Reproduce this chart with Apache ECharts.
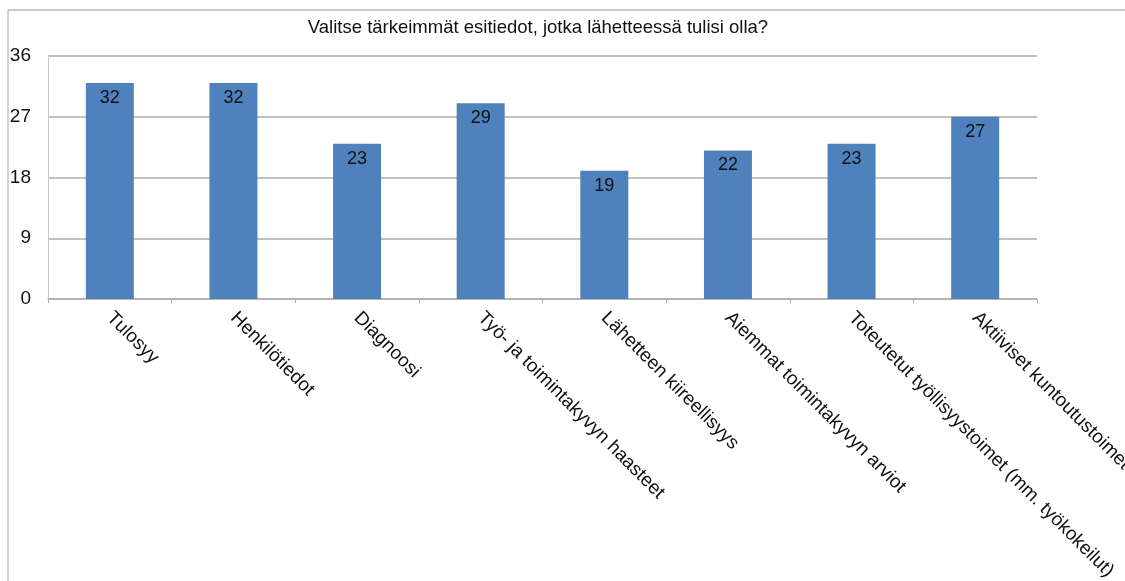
<!DOCTYPE html>
<html><head><meta charset="utf-8">
<script src="https://cdn.jsdelivr.net/npm/echarts@6/dist/echarts.min.js"></script>
<style>html,body{margin:0;padding:0;background:#fff}#c{width:1125px;height:581px}</style>
</head><body><div id="c"></div>
<script>
const titleText = 'Valitse tärkeimmät esitiedot, jotka lähetteessä tulisi olla?';
const categories = ['Tulosyy','Henkilötiedot','Diagnoosi','Työ- ja toimintakyvyn haasteet','Lähetteen kiireellisyys','Aiemmat toimintakyvyn arviot','Toteutetut työllisyystoimet (mm. työkokeilut)','Aktiiviset kuntoutustoimet'];
const values = [32,32,23,29,19,22,23,27];
const yTicks = [0,9,18,27,36];

const chart = echarts.init(document.getElementById('c'), null, {renderer:'canvas'});
chart.setOption({
  animation:false,
  backgroundColor:'#fff',
  title:{text:titleText,left:533,textAlign:'center',top:13,textStyle:{fontFamily:'Liberation Sans',fontSize:18.5,fontWeight:'normal',color:'#111'}},
  graphic:[
    {type:'line',shape:{x1:8,y1:10,x2:1125,y2:10},style:{stroke:'#b4b4b4',lineWidth:1.5}},
    {type:'line',shape:{x1:8,y1:10,x2:8,y2:581},style:{stroke:'#c4c4c4',lineWidth:1.5}}
  ],
  grid:{left:48,right:88,top:56,bottom:282,containLabel:false,outerBoundsMode:'none'},
  xAxis:{type:'category',data:categories,
    axisLine:{show:true,lineStyle:{color:'#b0b0b0',width:1.5}},
    axisTick:{show:true,length:4,lineStyle:{color:'#b0b0b0'}},
    axisLabel:{rotate:-45,interval:0,margin:16,fontFamily:'Liberation Sans',fontSize:19,color:'#111'}},
  yAxis:{type:'value',min:yTicks[0],max:yTicks[yTicks.length-1],interval:9,
    axisLine:{show:true,lineStyle:{color:'#c8c8c8',width:1}},
    axisTick:{show:false},
    splitLine:{lineStyle:{color:'#acacac',width:1.5}},
    axisLabel:{margin:17,fontFamily:'Liberation Sans',fontSize:19,color:'#111'}},
  series:[{type:'bar',data:values,barWidth:48,
    itemStyle:{color:'#4f81bd'},
    label:{show:true,position:'insideTop',distance:6,fontFamily:'Liberation Sans',fontSize:18,color:'#111'}}]
});
</script></body></html>
